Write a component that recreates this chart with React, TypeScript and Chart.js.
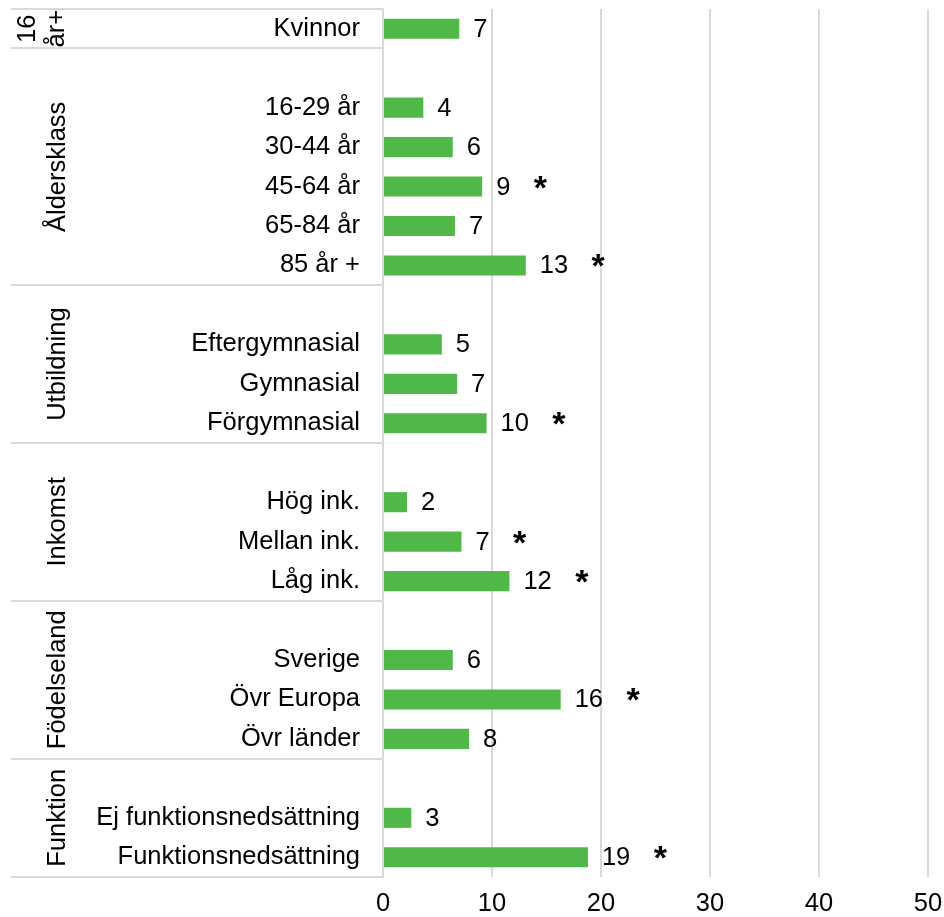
import React, { useEffect, useRef } from "react";
import { Chart, registerables } from "chart.js";

Chart.register(...registerables);

const categories = [
  "Kvinnor", "",
  "16-29 år", "30-44 år", "45-64 år", "65-84 år", "85 år +", "",
  "Eftergymnasial", "Gymnasial", "Förgymnasial", "",
  "Hög ink.", "Mellan ink.", "Låg ink.", "",
  "Sverige", "Övr Europa", "Övr länder", "",
  "Ej funktionsnedsättning", "Funktionsnedsättning",
];

const values: (number | null)[] = [
  7.0, null,
  3.7, 6.4, 9.1, 6.6, 13.1, null,
  5.4, 6.8, 9.5, null,
  2.2, 7.2, 11.6, null,
  6.4, 16.3, 7.9, null,
  2.6, 18.8,
];

const valueLabels: string[] = [
  "7", "",
  "4", "6", "9", "7", "13", "",
  "5", "7", "10", "",
  "2", "7", "12", "",
  "6", "16", "8", "",
  "3", "19",
];

const significant: boolean[] = [
  false, false,
  false, false, true, false, true, false,
  false, false, true, false,
  false, true, true, false,
  false, true, false, false,
  false, true,
];

const groupNames: string[][] = [["16", "år+"], ["Åldersklass"], ["Utbildning"], ["Inkomst"], ["Födelseland"], ["Funktion"]];
const groupStarts = [0, 1, 7, 11, 15, 19];
const groupEnds = [0, 6, 10, 14, 18, 21];

const xTicks = [0, 10, 20, 30, 40, 50];

const FONT = '"Liberation Sans", Arial, sans-serif';
const FS = 25.5;
const GRID = "#d9d9d9";
const BAR = "#50b848";

const groupPlugin = {
  id: "groups",
  afterDraw(chart: any) {
    const ctx = chart.ctx;
    const y = chart.scales.y;
    const area = chart.chartArea;
    const n = categories.length;
    const edge = (i: number) => {
      if (i <= 0) return area.top;
      if (i >= n) return area.bottom;
      return (y.getPixelForValue(i - 1) + y.getPixelForValue(i)) / 2;
    };
    ctx.save();
    ctx.strokeStyle = GRID;
    ctx.lineWidth = 2;
    const bounds = new Set<number>();
    groupStarts.forEach((s) => bounds.add(s));
    bounds.add(n);
    bounds.forEach((b) => {
      const yy = Math.round(edge(b));
      ctx.beginPath();
      ctx.moveTo(11, yy);
      ctx.lineTo(area.left, yy);
      ctx.stroke();
    });
    ctx.fillStyle = "#000";
    ctx.font = `${FS}px ${FONT}`;
    ctx.textAlign = "center";
    ctx.textBaseline = "middle";
    groupNames.forEach((lines, gi) => {
      const cy = (edge(groupStarts[gi]) + edge(groupEnds[gi] + 1)) / 2;
      const xs = lines.length === 1 ? [57] : [27, 56];
      lines.forEach((t, li) => {
        ctx.save();
        ctx.translate(xs[li], cy);
        ctx.rotate(-Math.PI / 2);
        ctx.fillText(t, 0, 1);
        ctx.restore();
      });
    });
    const meta = chart.getDatasetMeta(0);
    meta.data.forEach((bar: any, i: number) => {
      if (values[i] == null) return;
      const lx = bar.x + 14;
      ctx.font = `${FS}px ${FONT}`;
      ctx.textAlign = "left";
      ctx.textBaseline = "middle";
      ctx.fillText(valueLabels[i], lx, bar.y + 1);
      if (significant[i]) {
        const w = ctx.measureText(valueLabels[i]).width;
        ctx.font = `bold 34px ${FONT}`;
        ctx.textAlign = "center";
        ctx.textBaseline = "alphabetic";
        ctx.fillText("*", lx + w + 30, bar.y + 12);
      }
    });
    ctx.restore();
  },
};

export default function App() {
  const ref = useRef<HTMLCanvasElement | null>(null);
  useEffect(() => {
    if (!ref.current) return;
    const chart = new Chart(ref.current, {
      type: "bar",
      data: {
        labels: categories,
        datasets: [
          {
            data: values as any,
            backgroundColor: BAR,
            borderWidth: 0,
            barPercentage: 0.51,
            categoryPercentage: 1,
          },
        ],
      },
      options: {
        indexAxis: "y",
        animation: false,
        responsive: false,
        maintainAspectRatio: false,
        devicePixelRatio: 1,
        layout: { padding: { top: 9, right: 16, left: 0, bottom: 0 } },
        plugins: { legend: { display: false }, tooltip: { enabled: false } },
        scales: {
          x: {
            type: "linear",
            min: 0,
            max: 50,
            afterBuildTicks: (s: any) => {
              s.ticks = xTicks.map((v) => ({ value: v }));
            },
            afterFit: (s: any) => {
              s.height = 40;
              s.paddingLeft = 0;
              s.paddingRight = 0;
            },
            ticks: {
              color: "#000",
              font: { family: FONT, size: FS },
              padding: 12,
              maxRotation: 0,
            },
            grid: { color: GRID, lineWidth: 2, drawTicks: false },
            border: { display: false },
          },
          y: {
            type: "category",
            afterFit: (s: any) => {
              s.width = 383;
              s.paddingTop = 0;
              s.paddingBottom = 0;
            },
            ticks: {
              color: "#000",
              font: { family: FONT, size: FS },
              padding: 23,
              autoSkip: false,
            },
            grid: { display: false, drawTicks: false },
            border: { display: true, color: GRID, width: 2 },
          },
        },
      },
      plugins: [groupPlugin],
    });
    return () => chart.destroy();
  }, []);
  return (
    <div style={{ position: "absolute", left: 0, top: 0, width: 944, height: 917, background: "#fff" }}>
      <canvas ref={ref} width={944} height={917} style={{ width: 944, height: 917, display: "block" }} />
    </div>
  );
}
